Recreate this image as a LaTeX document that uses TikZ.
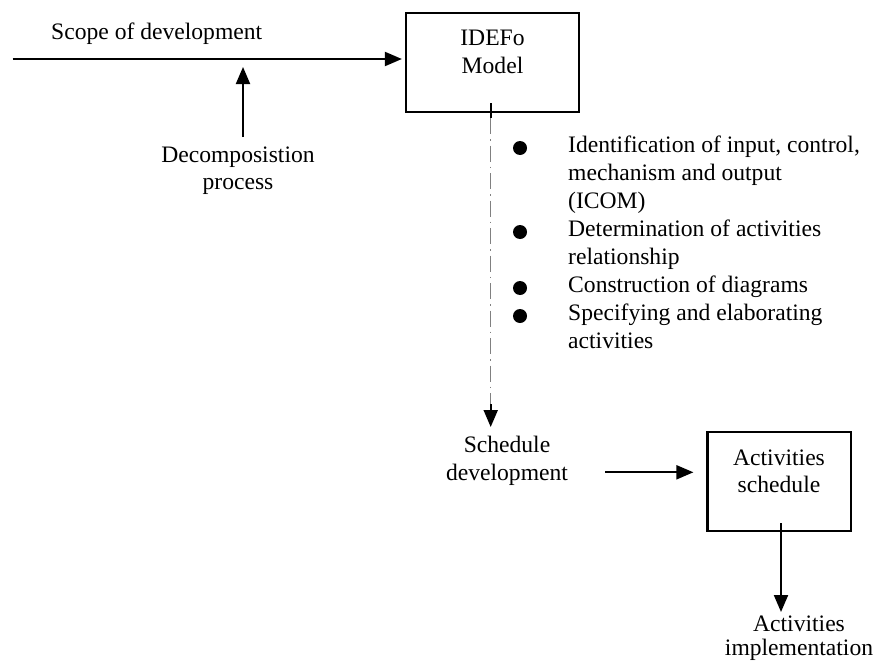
\documentclass[tikz,border=0pt]{standalone}
\usepackage{fontspec}
\setmainfont{Liberation Serif}
\usetikzlibrary{arrows.meta}
\begin{document}
\begin{tikzpicture}[x=1pt,y=-1pt,
  lbl/.style={inner sep=0pt, align=center, font=\fontsize{23.6}{27.6}\selectfont},
  listtext/.style={inner sep=0pt, align=left, font=\fontsize{23.6}{28}\selectfont},
  box/.style={draw, line width=2.2pt, rectangle, inner sep=0pt},
  arr/.style={line width=2pt, -{Triangle[length=17pt,width=14pt]}},
  stem/.style={line width=2pt},
  flow/.style={gray, line width=0.8pt, dash pattern=on 16pt off 5pt on 1.5pt off 5pt},
  dot/.style={circle, fill=black, inner sep=0pt, minimum size=14pt}]
\useasboundingbox (0,0) rectangle (877,661);

% boxes (multi-line labels are placed by the baseline of their last line)
\node[box, minimum width=173pt, minimum height=98.4pt] (idef) at (492.5,62.5) {};
\node[lbl, anchor=base] (idefl) at (492.5,73.3) {IDEFo\\Model};
\node[box, minimum width=143.5pt, minimum height=98.4pt] (sched) at (779.25,481.5) {};
\node[lbl, anchor=base] (schedl) at (779,492.7) {Activities\\schedule};

% labels
\node[lbl, anchor=base] (scope) at (156.7,39.5) {Scope of development};
\node[lbl, anchor=base] (decomp) at (238,189.6) {Decomposistion\\process};
\node[lbl, anchor=base] (dev) at (507,480) {Schedule\\development};
\node[lbl, anchor=base, font=\fontsize{23.6}{23.4}\selectfont] (impl) at (799,655) {Activities\\implementation};

% activity list
\node[listtext, anchor=base west] (icom) at (568,348) {Identification of input, control,\\mechanism and output\\(ICOM)\\Determination of activities\\relationship\\Construction of diagrams\\Specifying and elaborating\\activities};
\node[dot] (b1) at (520,148) {};
\node[dot] (b2) at (520,232) {};
\node[dot] (b3) at (520,288) {};
\node[dot] (b4) at (520,316) {};

% connectors
\coordinate (in) at (12.7,59);
\draw[arr, shorten >=3pt] (in) -- (in -| idef.west);
\coordinate (decTop) at (243,137);
\coordinate (decTip) at (243,67);
\draw[arr] (decTop) -- (decTip);

\coordinate (t1) at (490.7,103);
\coordinate (t2) at (490.7,118);
\coordinate (t3) at (490.7,404);
\coordinate (t4) at (490.7,427);
\draw[stem] (t1) -- (t2);
\draw[flow] (t2) -- (t3);
\draw[arr] (t3) -- (t4);

\coordinate (d1) at (605,472.3);
\draw[arr, shorten >=13pt] (d1) -- (d1 -| sched.west);

\coordinate (s1) at (781,523);
\coordinate (s2) at (781,612);
\draw[arr] (s1) -- (s2);
\end{tikzpicture}
\end{document}
